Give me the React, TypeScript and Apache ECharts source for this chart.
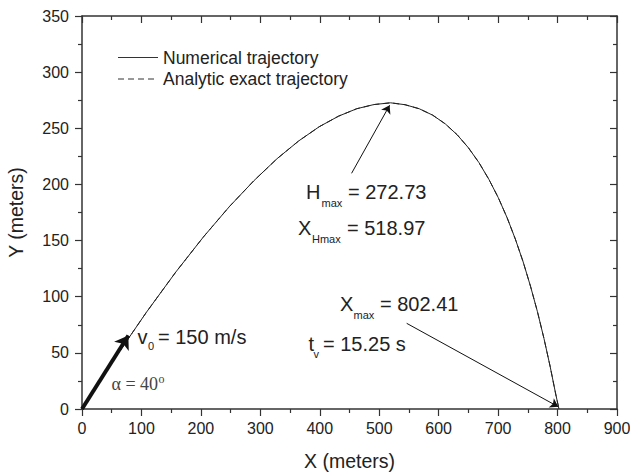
import React, { useEffect, useRef } from "react";
import * as echarts from "echarts";

// Trajectory points (X in meters, Y in meters)
const trajectoryX = [
  0, 55.8, 108.3, 157.7, 204.2, 248.0, 289.3, 328.1, 364.7, 399.1, 431.6, 462.1,
  490.8, 519.0, 543.4, 567.3, 589.9, 611.2, 631.2, 650.1, 667.8, 684.5, 700.3,
  715.1, 729.0, 742.2, 754.5, 766.2, 777.1, 787.4, 797.2, 802.4,
];
const trajectoryY = [
  0, 45.6, 86.1, 121.9, 153.2, 180.3, 203.4, 222.9, 238.8, 251.4, 260.8, 267.4,
  271.1, 272.7, 271.0, 267.4, 261.7, 253.9, 244.2, 232.6, 219.4, 204.5, 188.2,
  170.4, 151.3, 130.9, 109.3, 86.6, 62.9, 38.2, 12.5, 0,
];

const seriesNames = ["Numerical trajectory", "Analytic exact trajectory"];

// Annotation arrows in data coordinates: [startX, startY, endX, endY]
const velocityArrow = [0, 0, 78, 65.5];
const hMaxArrow = [453.5, 209.9, 517.5, 270.5];
const xMaxArrow = [546.2, 76.3, 801.2, 2.0];

const FONT = "'Liberation Sans', Arial, Helvetica, sans-serif";
const SERIF = "'Liberation Serif', 'Times New Roman', serif";
const INK = "#222";

function txt(x: number, y: number, text: string, size: number, family = FONT, fill = INK) {
  return {
    type: "text",
    x,
    y,
    silent: true,
    style: {
      text,
      fontSize: size,
      fontFamily: family,
      fill,
      textAlign: "left",
      textVerticalAlign: "middle",
    },
  };
}

function legendLine(y: number, dashed: boolean) {
  return {
    type: "line",
    silent: true,
    shape: { x1: 118, y1: y, x2: 158, y2: y },
    style: { stroke: "#333", lineWidth: 1, lineDash: dashed ? [6, 4] : null },
  };
}

export default function App() {
  const ref = useRef<HTMLDivElement>(null);

  useEffect(() => {
    if (!ref.current) return;
    const chart = echarts.init(ref.current, undefined, { renderer: "svg" });
    const pts = trajectoryX.map((x, i) => [x, trajectoryY[i]]);

    const axisLine = { show: true, onZero: false, lineStyle: { color: "#333", width: 1.5 } };
    const axisLabel = { color: INK, fontSize: 16, fontFamily: FONT };
    const tickStyle = { color: "#333", width: 1.2 };

    const arrow = (a: number[], width: number, size: number) => [
      { coord: [a[0], a[1]], symbol: "none", lineStyle: { width, color: "#111", type: "solid" } },
      { coord: [a[2], a[3]], symbol: "arrow", symbolSize: size },
    ];

    chart.setOption({
      animation: false,
      backgroundColor: "#fff",
      grid: { left: 82, right: 13, top: 16, bottom: 66, containLabel: false, outerBoundsMode: "none" },
      xAxis: [
        {
          type: "value",
          position: "bottom",
          min: 0,
          max: 900,
          interval: 100,
          name: "X (meters)",
          nameLocation: "middle",
          nameGap: 42,
          nameTextStyle: { fontSize: 19.5, fontFamily: FONT, color: INK },
          axisLine,
          axisTick: { show: true, inside: false, length: 7, lineStyle: tickStyle },
          minorTick: { show: true, splitNumber: 2, length: 4, lineStyle: tickStyle },
          axisLabel: { ...axisLabel, margin: 11 },
          splitLine: { show: false },
        },
        {
          type: "value",
          position: "top",
          min: 0,
          max: 900,
          interval: 100,
          axisLine,
          axisTick: { show: true, inside: true, length: 7, lineStyle: tickStyle },
          minorTick: { show: true, splitNumber: 2, length: 4, lineStyle: tickStyle },
          axisLabel: { show: false },
          splitLine: { show: false },
        },
      ],
      yAxis: [
        {
          type: "value",
          position: "left",
          min: 0,
          max: 350,
          interval: 50,
          name: "Y (meters)",
          nameLocation: "middle",
          nameGap: 56,
          nameTextStyle: { fontSize: 19.5, fontFamily: FONT, color: INK },
          axisLine,
          axisTick: { show: true, inside: false, length: 7, lineStyle: tickStyle },
          minorTick: { show: true, splitNumber: 2, length: 4, lineStyle: tickStyle },
          axisLabel: { ...axisLabel, margin: 13 },
          splitLine: { show: false },
        },
        {
          type: "value",
          position: "right",
          min: 0,
          max: 350,
          interval: 50,
          axisLine,
          axisTick: { show: true, inside: true, length: 7, lineStyle: tickStyle },
          minorTick: { show: true, splitNumber: 2, length: 4, lineStyle: tickStyle },
          axisLabel: { show: false },
          splitLine: { show: false },
        },
      ],
      series: [
        {
          name: seriesNames[0],
          type: "line",
          xAxisIndex: 0,
          yAxisIndex: 0,
          data: pts,
          showSymbol: false,
          symbol: "none",
          lineStyle: { color: INK, width: 1 },
          itemStyle: { color: INK },
          z: 3,
        },
        {
          name: seriesNames[1],
          type: "line",
          xAxisIndex: 0,
          yAxisIndex: 0,
          data: pts,
          showSymbol: false,
          symbol: "none",
          lineStyle: { color: INK, width: 1, type: [6, 4] },
          itemStyle: { color: INK },
          z: 2,
        },
        {
          name: "annotations",
          type: "line",
          xAxisIndex: 0,
          yAxisIndex: 0,
          data: [],
          markLine: {
            silent: true,
            symbol: ["none", "arrow"],
            label: { show: false },
            emphasis: { disabled: true },
            lineStyle: { color: "#111", type: "solid", width: 1 },
            data: [
              arrow(velocityArrow, 4, 13),
              arrow(hMaxArrow, 1, 8),
              arrow(xMaxArrow, 1, 8),
            ],
          },
        },
      ],
      graphic: [
        // legend
        legendLine(57.5, false),
        txt(163, 57.5, seriesNames[0], 17.5),
        legendLine(79, true),
        txt(163, 79, seriesNames[1], 17.5),
        // H_max = 272.73
        txt(306, 192, "H", 20),
        txt(321.5, 203, "max", 11),
        txt(348, 192, "= 272.73", 20),
        // X_Hmax = 518.97
        txt(298, 228, "X", 20),
        txt(312, 239, "Hmax", 11),
        txt(347, 228, "= 518.97", 20),
        // X_max = 802.41
        txt(340, 304, "X", 20),
        txt(353.5, 315, "max", 11),
        txt(380, 304, "= 802.41", 20),
        // t_v = 15.25 s
        txt(308.5, 343.5, "t", 20),
        txt(313.5, 354, "v", 11),
        txt(323, 343.5, "= 15.25 s", 20),
        // v_0 = 150 m/s
        txt(137.5, 336.5, "v", 20),
        txt(148, 346, "0", 11),
        txt(158, 336.5, "= 150 m/s", 20),
        // alpha = 40 deg
        txt(111.5, 384, "α = 40", 18, SERIF, "#444"),
        txt(158.5, 378.5, "o", 12, SERIF, "#444"),
      ],
    });

    return () => chart.dispose();
  }, []);

  return (
    <div
      ref={ref}
      style={{ position: "fixed", left: 0, top: 0, width: 630, height: 475, background: "#fff" }}
    />
  );
}
